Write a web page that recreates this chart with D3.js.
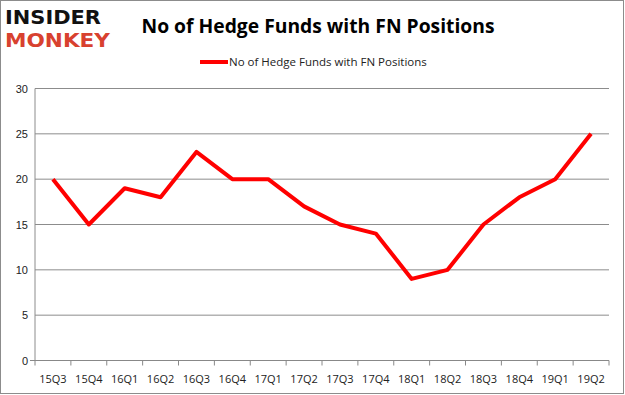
<!DOCTYPE html>
<html>
<head>
<meta charset="utf-8">
<script src="https://cdn.jsdelivr.net/npm/d3@7"></script>
<style>
  body { margin: 0; background: #fff; }
  svg { display: block; font-family: "Open Sans", "DejaVu Sans", sans-serif; }
  .axis text { font-size: 11px; fill: #222; }
  .axis path, .axis line { stroke: #888; }
</style>
</head>
<body>
<div class="chart-container"></div>
<script>
var quarters = ["15Q3", "15Q4", "16Q1", "16Q2", "16Q3", "16Q4", "17Q1", "17Q2",
                "17Q3", "17Q4", "18Q1", "18Q2", "18Q3", "18Q4", "19Q1", "19Q2"];
var funds = [20, 15, 19, 18, 23, 20, 20, 17, 15, 14, 9, 10, 15, 18, 20, 25];
var yTicks = [0, 5, 10, 15, 20, 25, 30];
var seriesName = "No of Hedge Funds with FN Positions";

var W = 625, H = 395;
var margin = {top: 88.5, right: 16, bottom: 34.5, left: 35},
    width = W - margin.left - margin.right,
    height = H - margin.top - margin.bottom;

var svg = d3.select(".chart-container").append("svg")
    .attr("width", W)
    .attr("height", H);

// outer frame
svg.append("rect")
    .attr("x", 0.5).attr("y", 0.5)
    .attr("width", W - 2).attr("height", H - 2)
    .attr("fill", "none")
    .attr("stroke", "#8c8c8c");

// logo
svg.append("text")
    .attr("x", 5).attr("y", 24)
    .style("font-family", "'DejaVu Sans', sans-serif")
    .style("font-weight", "900")
    .style("font-size", "19px")
    .attr("fill", "#111")
    .attr("textLength", 96)
    .attr("lengthAdjust", "spacingAndGlyphs")
    .text("INSIDER");
svg.append("text")
    .attr("x", 5).attr("y", 47)
    .style("font-family", "'DejaVu Sans', sans-serif")
    .style("font-weight", "900")
    .style("font-size", "19px")
    .attr("fill", "#d8412f")
    .attr("textLength", 105)
    .attr("lengthAdjust", "spacingAndGlyphs")
    .text("MONKEY");

// title
svg.append("text")
    .attr("x", 318).attr("y", 33)
    .attr("text-anchor", "middle")
    .style("font-weight", "bold")
    .style("font-size", "19.3px")
    .attr("fill", "#000")
    .text(seriesName);

// legend
svg.append("line")
    .attr("x1", 200).attr("x2", 228)
    .attr("y1", 62).attr("y2", 62)
    .attr("stroke", "red")
    .attr("stroke-width", 4);
svg.append("text")
    .attr("x", 229).attr("y", 66)
    .style("font-size", "11.5px")
    .attr("fill", "#222")
    .text(seriesName);

var g = svg.append("g")
    .attr("transform", "translate(" + margin.left + "," + margin.top + ")");

var x = d3.scaleBand()
    .domain(quarters)
    .range([0, width]);

var y = d3.scaleLinear()
    .domain([0, 30])
    .range([height, 0]);

// gridlines
g.selectAll(".grid")
    .data(yTicks.slice(1))
  .enter().append("line")
    .attr("class", "grid")
    .attr("x1", 0).attr("x2", width)
    .attr("y1", function(d) { return y(d); })
    .attr("y2", function(d) { return y(d); })
    .attr("stroke", "#8c8c8c");

// y axis
g.append("g")
    .attr("class", "y axis")
    .call(d3.axisLeft(y).tickValues(yTicks).tickSize(0).tickPadding(7))
    .call(function(s) { s.select(".domain").remove(); });

g.append("line")
    .attr("x1", 0).attr("x2", 0)
    .attr("y1", 0).attr("y2", height)
    .attr("stroke", "#8c8c8c");

// x axis with ticks at band edges
var xAxis = g.append("g")
    .attr("class", "x axis")
    .attr("transform", "translate(0," + height + ")");

xAxis.append("line")
    .attr("x1", -5).attr("x2", width)
    .attr("stroke", "#8c8c8c");

var edges = quarters.map(function(q) { return x(q); }).concat([width]);
xAxis.selectAll(".tick-edge")
    .data(edges)
  .enter().append("line")
    .attr("x1", function(d) { return d; })
    .attr("x2", function(d) { return d; })
    .attr("y1", 0).attr("y2", 5)
    .attr("stroke", "#8c8c8c");

xAxis.selectAll(".xlabel")
    .data(quarters)
  .enter().append("text")
    .attr("x", function(d) { return x(d) + x.bandwidth() / 2; })
    .attr("y", 22)
    .attr("text-anchor", "middle")
    .text(function(d) { return d; });

// the line
var line = d3.line()
    .x(function(d, i) { return x(quarters[i]) + x.bandwidth() / 2; })
    .y(function(d) { return y(d); });

g.append("path")
    .datum(funds)
    .attr("fill", "none")
    .attr("stroke", "red")
    .attr("stroke-width", 4)
    .attr("stroke-linejoin", "round")
    .attr("d", line);
</script>
</body>
</html>
